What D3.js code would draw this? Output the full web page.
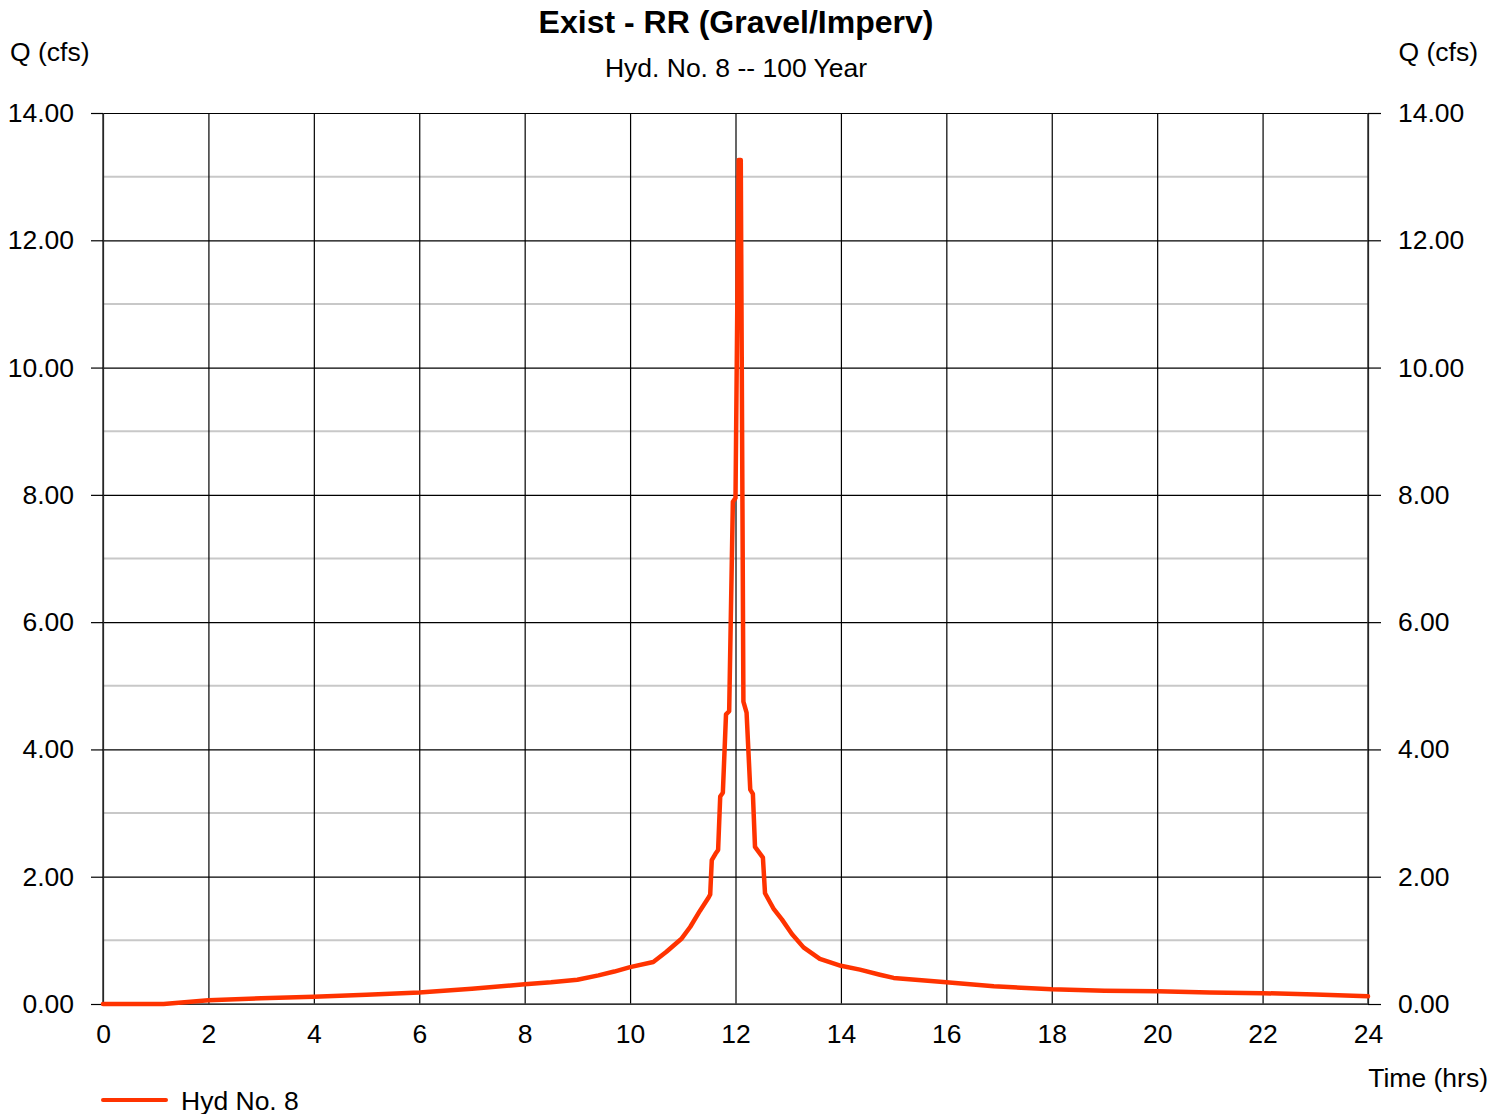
<!DOCTYPE html>
<html>
<head>
<meta charset="utf-8">
<script src="https://cdnjs.cloudflare.com/ajax/libs/d3/7.8.5/d3.min.js"></script>
<style>
    body { margin: 0; background: #fff; }
    svg { display: block; font-family: "Liberation Sans", Arial, sans-serif; }
</style>
</head>
<body>
<svg id="chart" width="1504" height="1114"></svg>
<script>
// hydrograph values (hrs, cfs)
const timeHrs = [0, 1.15, 2, 3, 4, 5, 6, 7, 8, 8.5, 9, 9.4, 9.7, 10, 10.44, 10.69, 10.98, 11.14, 11.33,
    11.48, 11.52, 11.55, 11.62, 11.67, 11.71, 11.76, 11.82, 11.88, 11.95, 12.0, 12.06, 12.1, 12.15,
    12.21, 12.28, 12.33, 12.37, 12.52, 12.56, 12.72, 12.88, 13.07, 13.29, 13.6, 14.0, 14.36, 14.74,
    15.0, 16.0, 16.9, 18, 19, 20, 21, 22, 23, 24];
const flowCfs = [0, 0, 0.06, 0.09, 0.115, 0.145, 0.18, 0.24, 0.31, 0.34, 0.38, 0.45, 0.51, 0.58, 0.66,
    0.82, 1.03, 1.21, 1.47, 1.66, 1.72, 2.26, 2.36, 2.42, 3.26, 3.32, 4.55, 4.6, 7.89, 7.95, 13.26,
    13.26, 4.75, 4.58, 3.37, 3.3, 2.47, 2.3, 1.74, 1.5, 1.33, 1.1, 0.89, 0.71, 0.6, 0.54, 0.46, 0.41,
    0.34, 0.28, 0.23, 0.21, 0.2, 0.18, 0.17, 0.15, 0.12];

const xTicks = d3.range(0, 25, 2);
const yMajorTicks = d3.range(0, 15, 2);
const yMinorTicks = d3.range(1, 14, 2);

const titleText = "Exist - RR (Gravel/Imperv)";
const subtitleText = "Hyd. No. 8 -- 100 Year";
const seriesName = "Hyd No. 8";
const lineColor = "#ff3300";
const labelSize = "26.5px";

let svg = d3.select("#chart");
let margin = {top: 113, right: 136, bottom: 110, left: 103};
let width = 1504 - margin.left - margin.right;
let height = 1114 - margin.top - margin.bottom;

let x = d3.scaleLinear().domain([0, 24]).range([0, width]);
let y = d3.scaleLinear().domain([0, 14]).range([height, 0]);

let plot = svg.append("g")
    .attr("transform", "translate(" + margin.left + "," + margin.top + ")");

// minor grid (gray)
plot.selectAll(".minor").data(yMinorTicks).enter().append("line")
    .attr("class", "minor")
    .attr("x1", 0).attr("x2", width)
    .attr("y1", d => y(d)).attr("y2", d => y(d))
    .style("stroke", "#c8c8c8")
    .style("stroke-width", 2);

// major grid via axes
let gridY = d3.axisLeft(y).tickValues(yMajorTicks).tickSize(-width).tickFormat("");
let gridX = d3.axisBottom(x).tickValues(xTicks).tickSize(-height).tickFormat("");

plot.append("g")
    .attr("class", "grid")
    .call(gridY)
    .call(g => g.select(".domain").remove())
    .call(g => g.selectAll("line").style("stroke", "#000").style("stroke-width", 1.2));

plot.append("g")
    .attr("class", "grid")
    .attr("transform", "translate(0," + height + ")")
    .call(gridX)
    .call(g => g.select(".domain").remove())
    .call(g => g.selectAll("line").style("stroke", "#000").style("stroke-width", 1.2));

// border
plot.append("line").attr("x1", 0).attr("x2", 0).attr("y1", 0).attr("y2", height)
    .style("stroke", "#333").style("stroke-width", 1.5);
plot.append("line").attr("x1", width).attr("x2", width).attr("y1", 0).attr("y2", height)
    .style("stroke", "#333").style("stroke-width", 1.5);
plot.append("line").attr("x1", 0).attr("x2", width).attr("y1", height).attr("y2", height)
    .style("stroke", "#444").style("stroke-width", 1.5);

// tick axes
let yAxisLeft = d3.axisLeft(y).tickValues(yMajorTicks).tickSize(12).tickPadding(17)
    .tickFormat(d3.format(".2f"));
let yAxisRight = d3.axisRight(y).tickValues(yMajorTicks).tickSize(13).tickPadding(17)
    .tickFormat(d3.format(".2f"));
let xAxis = d3.axisBottom(x).tickValues(xTicks).tickSize(0).tickPadding(20)
    .tickFormat(d3.format("d"));

function styleAxis(g) {
    g.select(".domain").remove();
    g.selectAll("line").style("stroke", "#000").style("stroke-width", 1.2);
    g.selectAll("text")
        .style("font-size", labelSize)
        .style("fill", "#000")
        .style("font-family", "'Liberation Sans', Arial, sans-serif");
}

plot.append("g").call(yAxisLeft).call(styleAxis);
plot.append("g").attr("transform", "translate(" + width + ",0)").call(yAxisRight).call(styleAxis);
plot.append("g").attr("transform", "translate(0," + height + ")").call(xAxis).call(styleAxis);

// hydrograph line
let points = timeHrs.map((t, i) => [t, flowCfs[i]]);
let line = d3.line()
    .x(d => x(d[0]))
    .y(d => y(d[1]));

plot.append("path")
    .datum(points)
    .attr("d", line)
    .style("fill", "none")
    .style("stroke", lineColor)
    .style("stroke-width", 4.5)
    .style("stroke-linejoin", "round")
    .style("stroke-linecap", "round");

// titles and labels
svg.append("text")
    .attr("x", 736).attr("y", 33)
    .attr("text-anchor", "middle")
    .style("font-size", "32px").style("font-weight", "bold")
    .text(titleText);

svg.append("text")
    .attr("x", 736).attr("y", 77)
    .attr("text-anchor", "middle")
    .style("font-size", labelSize)
    .text(subtitleText);

svg.append("text")
    .attr("x", 10).attr("y", 61)
    .style("font-size", labelSize)
    .text("Q (cfs)");

svg.append("text")
    .attr("x", 1478).attr("y", 61)
    .attr("text-anchor", "end")
    .style("font-size", labelSize)
    .text("Q (cfs)");

svg.append("text")
    .attr("x", 1488).attr("y", 1087)
    .attr("text-anchor", "end")
    .style("font-size", labelSize)
    .text("Time (hrs)");

// legend
svg.append("line")
    .attr("x1", 103).attr("x2", 166)
    .attr("y1", 1100).attr("y2", 1100)
    .style("stroke", lineColor)
    .style("stroke-width", 4)
    .style("stroke-linecap", "round");

svg.append("text")
    .attr("x", 181).attr("y", 1110)
    .style("font-size", labelSize)
    .text(seriesName);
</script>
</body>
</html>
